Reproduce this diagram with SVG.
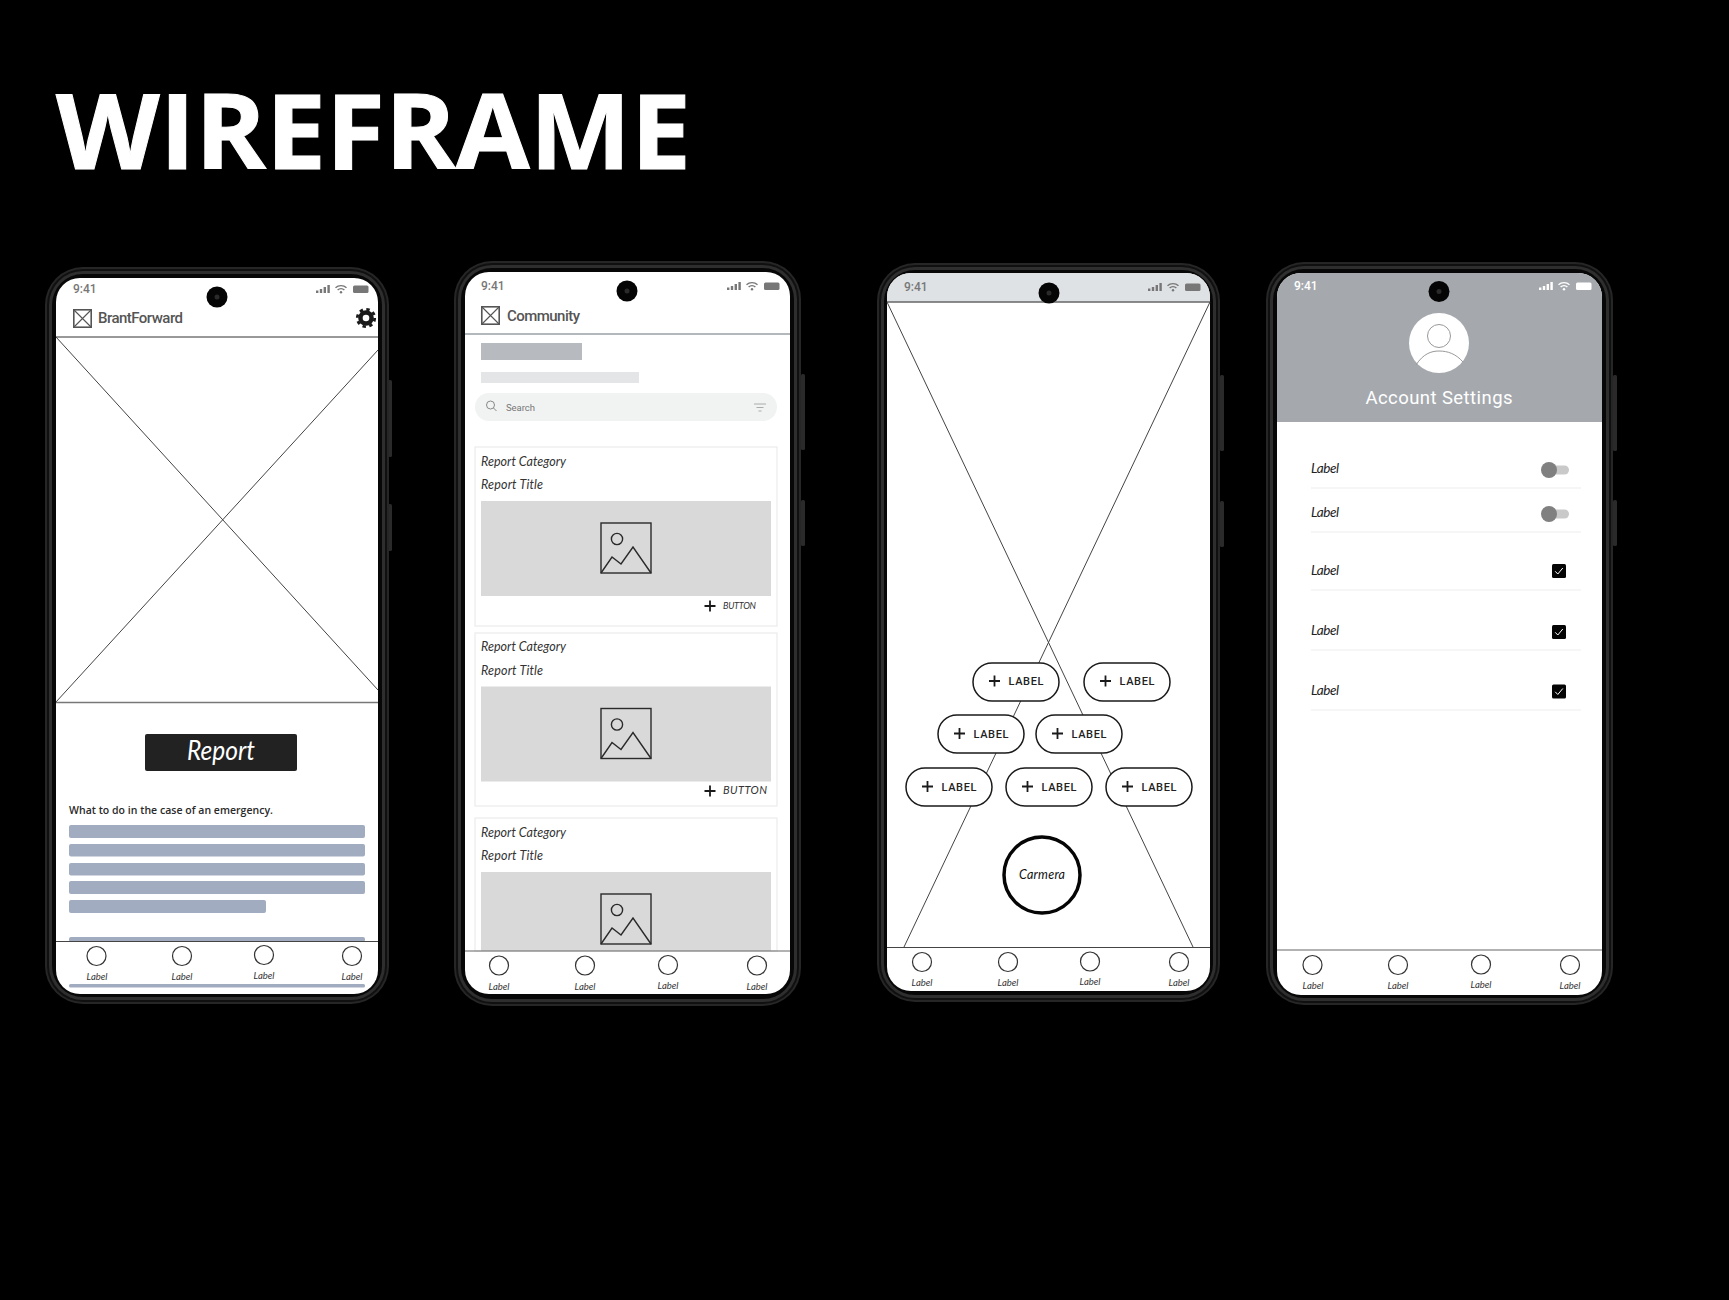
<svg xmlns="http://www.w3.org/2000/svg" width="1729" height="1300" viewBox="0 0 1729 1300">
<style>
.f0{fill:#262626}.f1{fill:#101010}.f2{fill:#2e2e2e}.f3{fill:#070707}
.side{fill:#2a2a2a}
.screen{fill:#fff}
.cam{fill:#050505}
.camd{fill:#2a2a2a}
.wire{stroke:#444;stroke-width:1;fill:none}
.rule{stroke:#777;stroke-width:1.5;fill:none}
.navline{stroke:#444;stroke-width:1.2;fill:none}
.navc{fill:#fff;stroke:#333;stroke-width:1.2}
.hand{font-family:"Lato","Open Sans",sans-serif;font-style:italic;fill:#333}
.navl{font-size:9.5px;text-anchor:middle}
.time{font-family:"Roboto",sans-serif;font-weight:500;font-size:12px;fill:#777}
.appt{font-family:"Roboto",sans-serif;font-weight:500;font-size:15px;fill:#555}
.bar{fill:#a1acc0}
.card{fill:#fff;stroke:#ececec;stroke-width:1.2}
.img{fill:#d9d9d9}
.ico{fill:none;stroke:#2a2a2a;stroke-width:1.4}
.pill{fill:#fff;stroke:#1a1a1a;stroke-width:1.5}
.pilll{font-family:"Roboto",sans-serif;font-weight:500;font-size:11px;letter-spacing:1px;fill:#222}
.plus{stroke:#1a1a1a;stroke-width:1.8;fill:none}
.sep{stroke:#eeeeee;stroke-width:1.2}
.lbl{font-size:13.5px;fill:#222}
</style>
<defs>
<g id="status">
<rect x="0" y="5.5" width="2.4" height="2.5" fill="currentColor"/><rect x="3.8" y="4" width="2.4" height="4" fill="currentColor"/><rect x="7.6" y="2" width="2.4" height="6" fill="currentColor"/><rect x="11.4" y="0" width="2.4" height="8" fill="currentColor"/>
<path d="M19.5 2.8a8 8 0 0 1 11 0M21.6 5a5 5 0 0 1 6.8 0" fill="none" stroke="currentColor" stroke-width="1.4"/><circle cx="25" cy="7.3" r="1.2" fill="currentColor"/>
<rect x="37" y="0.5" width="15.5" height="7.5" rx="1.5" fill="currentColor"/>
</g>
<g id="logo"><rect x="0.8" y="0.8" width="17.4" height="17.4" fill="none" stroke="#555" stroke-width="1.6"/><path d="M1 1L18 18M18 1L1 18" stroke="#555" stroke-width="1.1"/></g>
<g id="pic"><rect width="50" height="50" class="ico"/><circle cx="16" cy="16" r="5.6" class="ico"/><path d="M0 50L11 34L20 41L32 24L50 50" class="ico"/></g>
<g id="plus"><path d="M-5.5 0H5.5M0 -5.5V5.5" class="plus"/></g>
<g id="check"><rect x="-7" y="-7" width="14" height="14" rx="1.5" fill="#050505"/><path d="M-3.8 0.3L-1.2 3L3.8 -3" fill="none" stroke="#fff" stroke-width="1"/></g>
<g id="toggle"><rect x="-5" y="-4.500" width="25" height="9" rx="4.500" fill="#c9c9c9"/><circle cx="0" cy="0" r="8" fill="#808080"/></g>
</defs>
<rect width="1729" height="1300" fill="#000"/>
<text id="title" x="56" y="169" font-family="Open Sans, sans-serif" font-weight="700" font-size="104" fill="#fff" stroke="#fff" stroke-width="1" textLength="635" lengthAdjust="spacingAndGlyphs">WIREFRAME</text>

<g id="phone1">
<rect class="side" x="388" y="380" width="4" height="77" rx="1.5"/><rect class="side" x="388" y="504" width="4" height="47" rx="1.5"/>
<rect class="f0" x="45" y="267" width="344" height="737" rx="38"/><rect class="f1" x="47" y="269" width="340" height="733" rx="36"/><rect class="f2" x="49" y="271" width="336" height="729" rx="34"/><rect class="f3" x="52" y="274" width="330" height="723" rx="31"/>
<rect class="screen" x="56" y="278" width="322" height="716" rx="24"/>
<text class="time" x="73" y="293">9:41</text>
<use href="#status" x="316" y="285" color="#777"/>
<use href="#logo" x="73" y="309"/>
<text class="appt" x="98" y="323" textLength="85">BrantForward</text>
<g id="gear" transform="translate(366 318)"><circle r="7.8" fill="#1a1a1a"/><circle r="8.7" fill="none" stroke="#1a1a1a" stroke-width="2.8" stroke-dasharray="3.42 3.42"/><circle r="3.3" fill="#fff"/></g>
<circle class="cam" cx="217" cy="297" r="10.5"/><circle class="camd" cx="217" cy="297" r="2.5"/>
<line class="rule" x1="56" y1="337" x2="378" y2="337"/>
<path class="wire" d="M56 337L378 690M378 350L56 702"/>
<line class="rule" x1="56" y1="702.500" x2="378" y2="702.500"/>
<rect x="145" y="734" width="152" height="37" rx="2" fill="#222"/>
<text class="hand" x="187" y="760" font-size="27" style="fill:#fff" textLength="68" lengthAdjust="spacingAndGlyphs">Report</text>
<text x="69" y="814" font-family="Open Sans, sans-serif" font-weight="600" font-size="10.500" fill="#2a2a2a" textLength="204">What to do in the case of an emergency.</text>
<rect class="bar" x="69" y="825" width="296" height="13" rx="2"/><rect class="bar" x="69" y="844" width="296" height="12.500" rx="2"/><rect class="bar" x="69" y="863" width="296" height="12.500" rx="2"/><rect class="bar" x="69" y="881" width="296" height="13" rx="2"/><rect class="bar" x="69" y="900" width="197" height="13" rx="2"/><rect class="bar" x="69" y="937" width="296" height="5" rx="2"/>
<line class="navline" x1="56" y1="941.500" x2="378" y2="941.500"/>
<circle class="navc" cx="96.500" cy="956" r="9.500"/><circle class="navc" cx="182" cy="956" r="9.500"/><circle class="navc" cx="264" cy="955" r="9.500"/><circle class="navc" cx="352" cy="956" r="9.500"/>
<text class="hand navl" x="97" y="980">Label</text><text class="hand navl" x="182" y="980">Label</text><text class="hand navl" x="264" y="979">Label</text><text class="hand navl" x="352" y="980">Label</text>
<rect class="bar" x="69" y="984" width="296" height="3.500" rx="1.500"/>
</g>

<g id="phone2">
<rect class="side" x="801" y="374" width="4" height="76" rx="1.500"/><rect class="side" x="801" y="500" width="4" height="46" rx="1.500"/>
<rect class="f0" x="454" y="261" width="347" height="745" rx="38"/><rect class="f1" x="456" y="263" width="343" height="741" rx="36"/><rect class="f2" x="458" y="265" width="339" height="737" rx="34"/><rect class="f3" x="461" y="268" width="333" height="731" rx="31"/>
<rect class="screen" x="465" y="272" width="325" height="722" rx="24"/>
<text class="time" x="481" y="290">9:41</text>
<use href="#status" x="727" y="282" color="#777"/>
<use href="#logo" x="481" y="306"/>
<text class="appt" x="507" y="321" textLength="73">Community</text>
<circle class="cam" cx="627" cy="291" r="10.500"/><circle class="camd" cx="627" cy="291" r="2.500"/>
<line x1="465" y1="334" x2="790" y2="334" stroke="#9aa0a6" stroke-width="1.300"/>
<rect x="481" y="343" width="101" height="17" fill="#b7babe"/>
<rect x="481" y="372" width="158" height="11" fill="#e4e5e6"/>
<rect x="475" y="393" width="302" height="28" rx="14" fill="#f1f3f3"/>
<circle cx="490.500" cy="405" r="4" fill="none" stroke="#888" stroke-width="1"/><path d="M493.500 408L496.500 411" stroke="#888" stroke-width="1"/>
<text x="506" y="411" font-family="Roboto, sans-serif" font-size="9.500" fill="#777" textLength="29">Search</text>
<path d="M754 404H766M756.500 407.500H763.500M758.500 411H761.500" stroke="#aaa" stroke-width="1"/>
<rect class="card" x="475" y="447" width="302" height="179"/>
<text class="hand" x="481" y="465.500" font-size="12.500" textLength="85">Report Category</text>
<text class="hand" x="481" y="489" font-size="12.500" textLength="62">Report Title</text>
<rect class="img" x="481" y="501" width="290" height="95"/>
<use href="#pic" x="601" y="523"/>
<use href="#plus" x="710" y="606"/>
<text class="hand" x="723" y="609" font-size="9" textLength="33">BUTTON</text>
<rect class="card" x="475" y="633" width="302" height="173"/>
<text class="hand" x="481" y="651" font-size="12.500" textLength="85">Report Category</text>
<text class="hand" x="481" y="675" font-size="12.500" textLength="62">Report Title</text>
<rect class="img" x="481" y="686.500" width="290" height="95"/>
<use href="#pic" x="601" y="708.500"/>
<use href="#plus" x="710" y="791"/>
<text class="hand" x="723" y="794" font-size="11" textLength="44">BUTTON</text>
<rect class="card" x="475" y="818" width="302" height="133"/>
<text class="hand" x="481" y="836.500" font-size="12.500" textLength="85">Report Category</text>
<text class="hand" x="481" y="860" font-size="12.500" textLength="62">Report Title</text>
<rect class="img" x="481" y="872" width="290" height="79"/>
<use href="#pic" x="601" y="894"/>
<line class="navline" x1="465" y1="951" x2="790" y2="951" style="stroke:#666"/>
<circle class="navc" cx="499" cy="965.500" r="9.500"/><circle class="navc" cx="585" cy="965.500" r="9.500"/><circle class="navc" cx="668" cy="965" r="9.500"/><circle class="navc" cx="757" cy="965.500" r="9.500"/>
<text class="hand navl" x="499" y="990">Label</text><text class="hand navl" x="585" y="990">Label</text><text class="hand navl" x="668" y="989">Label</text><text class="hand navl" x="757" y="990">Label</text>
</g>

<g id="phone3">
<rect class="side" x="1220" y="375" width="4" height="76" rx="1.500"/><rect class="side" x="1220" y="501" width="4" height="46" rx="1.500"/>
<rect class="f0" x="877" y="263" width="343" height="739" rx="38"/><rect class="f1" x="879" y="265" width="339" height="735" rx="36"/><rect class="f2" x="881" y="267" width="335" height="731" rx="34"/><rect class="f3" x="884" y="270" width="329" height="725" rx="31"/>
<rect class="screen" x="887" y="273" width="323" height="718" rx="24"/>
<path d="M887 302V297a24 24 0 0 1 24-24H1186a24 24 0 0 1 24 24V302Z" fill="#dfe2e5"/>
<line x1="887" y1="302" x2="1210" y2="302" stroke="#666" stroke-width="1.300"/>
<text class="time" x="904" y="291">9:41</text>
<use href="#status" x="1148" y="283" color="#777"/>
<circle class="cam" cx="1049" cy="293" r="10.500"/><circle class="camd" cx="1049" cy="293" r="2.500"/>
<path class="wire" d="M887 302L1193 947M1210 302L904 947"/>
<line class="navline" x1="887" y1="947.500" x2="1210" y2="947.500"/>
<circle class="navc" cx="922" cy="962" r="9.500"/><circle class="navc" cx="1008" cy="962" r="9.500"/><circle class="navc" cx="1090" cy="961.500" r="9.500"/><circle class="navc" cx="1179" cy="962" r="9.500"/>
<text class="hand navl" x="922" y="986">Label</text><text class="hand navl" x="1008" y="986">Label</text><text class="hand navl" x="1090" y="985">Label</text><text class="hand navl" x="1179" y="986">Label</text>
<g id="pill1"><rect class="pill" x="973" y="663" width="86" height="38" rx="19"/><use href="#plus" x="994.500" y="681"/><text class="pilll" x="1008.500" y="685" textLength="36">LABEL</text></g>
<g id="pill2"><rect class="pill" x="1084" y="663" width="86" height="38" rx="19"/><use href="#plus" x="1105.500" y="681"/><text class="pilll" x="1119.500" y="685" textLength="36">LABEL</text></g>
<g id="pill3"><rect class="pill" x="938" y="715" width="86" height="38" rx="19"/><use href="#plus" x="959.500" y="733.500"/><text class="pilll" x="973.500" y="737.500" textLength="36">LABEL</text></g>
<g id="pill4"><rect class="pill" x="1036" y="715" width="86" height="38" rx="19"/><use href="#plus" x="1057.500" y="733.500"/><text class="pilll" x="1071.500" y="737.500" textLength="36">LABEL</text></g>
<g id="pill5"><rect class="pill" x="906" y="768" width="86" height="38" rx="19"/><use href="#plus" x="927.500" y="786.500"/><text class="pilll" x="941.500" y="790.500" textLength="36">LABEL</text></g>
<g id="pill6"><rect class="pill" x="1006" y="768" width="86" height="38" rx="19"/><use href="#plus" x="1027.500" y="786.500"/><text class="pilll" x="1041.500" y="790.500" textLength="36">LABEL</text></g>
<g id="pill7"><rect class="pill" x="1106" y="768" width="86" height="38" rx="19"/><use href="#plus" x="1127.500" y="786.500"/><text class="pilll" x="1141.500" y="790.500" textLength="36">LABEL</text></g>
<g id="camera"><circle cx="1042" cy="875" r="38" fill="#fff" stroke="#050505" stroke-width="3.500"/><text class="hand" x="1042" y="879" font-size="12.500" text-anchor="middle" style="fill:#111" textLength="46">Carmera</text></g>
</g>

<g id="phone4">
<rect class="side" x="1613" y="375" width="4" height="76" rx="1.500"/><rect class="side" x="1613" y="500" width="4" height="46" rx="1.500"/>
<rect class="f0" x="1266" y="262" width="347" height="743" rx="38"/><rect class="f1" x="1268" y="264" width="343" height="739" rx="36"/><rect class="f2" x="1270" y="266" width="339" height="735" rx="34"/><rect class="f3" x="1273" y="269" width="333" height="729" rx="31"/>
<rect class="screen" x="1277" y="273" width="325" height="722" rx="24"/>
<path d="M1277 422V297a24 24 0 0 1 24-24H1578a24 24 0 0 1 24 24V422Z" fill="#a5a9ae"/>
<text class="time" x="1294" y="290" style="fill:#fff">9:41</text>
<use href="#status" x="1539" y="282" color="#fff"/>
<circle class="cam" cx="1439" cy="291.500" r="10.500"/><circle class="camd" cx="1439" cy="291.500" r="2.500"/>
<circle cx="1439" cy="343" r="30" fill="#fff"/>
<circle cx="1439" cy="336" r="11.500" fill="none" stroke="#999" stroke-width="1"/>
<path d="M1416 365C1423 354 1431 351 1439 351C1448 351 1456 354 1463 362" fill="none" stroke="#999" stroke-width="1"/>
<text x="1439" y="404" font-family="Roboto, sans-serif" font-size="18.500" fill="#fff" text-anchor="middle" textLength="147">Account Settings</text>
<text class="hand lbl" x="1311" y="473" textLength="28">Label</text><text class="hand lbl" x="1311" y="517" textLength="28">Label</text><text class="hand lbl" x="1311" y="575" textLength="28">Label</text><text class="hand lbl" x="1311" y="635" textLength="28">Label</text><text class="hand lbl" x="1311" y="695" textLength="28">Label</text>
<line class="sep" x1="1311" y1="488" x2="1581" y2="488"/><line class="sep" x1="1311" y1="532" x2="1581" y2="532"/><line class="sep" x1="1311" y1="590" x2="1581" y2="590"/><line class="sep" x1="1311" y1="650" x2="1581" y2="650"/><line class="sep" x1="1311" y1="710" x2="1581" y2="710"/>
<use href="#toggle" x="1549" y="470"/><use href="#toggle" x="1549" y="514"/>
<use href="#check" x="1559" y="571"/><use href="#check" x="1559" y="632"/><use href="#check" x="1559" y="691.500"/>
<line class="navline" x1="1277" y1="950" x2="1602" y2="950" style="stroke:#666"/>
<circle class="navc" cx="1312.500" cy="965" r="9.500"/><circle class="navc" cx="1398" cy="965" r="9.500"/><circle class="navc" cx="1481" cy="964.500" r="9.500"/><circle class="navc" cx="1570" cy="965" r="9.500"/>
<text class="hand navl" x="1313" y="989">Label</text><text class="hand navl" x="1398" y="989">Label</text><text class="hand navl" x="1481" y="988">Label</text><text class="hand navl" x="1570" y="989">Label</text>
</g>
</svg>
